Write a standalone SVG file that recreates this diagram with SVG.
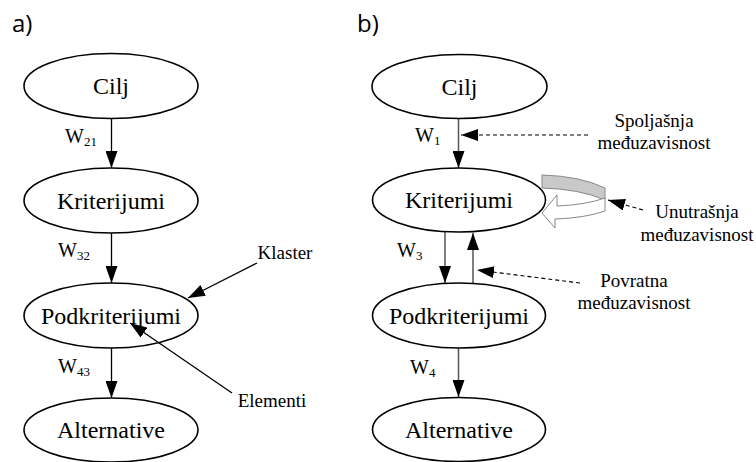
<svg xmlns="http://www.w3.org/2000/svg" width="756" height="462" viewBox="0 0 756 462">
<style>
.node ellipse{fill:#fff;stroke:#000;stroke-width:1.6}
.t{font-family:"Liberation Serif",serif}
.ln{stroke:#000;stroke-width:1.3;fill:none}
.lng{stroke:#555;stroke-width:1.5;fill:none}
.dash{stroke:#000;stroke-width:1.1;stroke-dasharray:4,3;fill:none}
</style>
<defs>
<marker id="ah" viewBox="0 0 17 12" refX="17" refY="6" markerWidth="17" markerHeight="12" markerUnits="userSpaceOnUse" orient="auto">
<path d="M0,0 L17,6 L0,12 Z" fill="#000"/>
</marker>
</defs>
<text x="12" y="32" font-family="Open Sans" font-size="24">a)</text>
<text x="357" y="32" font-family="Open Sans" font-size="24">b)</text>
<g id="connectors">
<line class="ln" x1="111.5" y1="118" x2="111.5" y2="168" marker-end="url(#ah)"/>
<line class="ln" x1="111.5" y1="233" x2="111.5" y2="283" marker-end="url(#ah)"/>
<line class="ln" x1="111.5" y1="348" x2="111.5" y2="398" marker-end="url(#ah)"/>
<line class="lng" x1="458.5" y1="118" x2="458.5" y2="168" marker-end="url(#ah)"/>
<line class="lng" x1="445" y1="232" x2="445" y2="283" marker-end="url(#ah)"/>
<line class="lng" x1="473" y1="283" x2="473" y2="233" marker-end="url(#ah)"/>
<line class="lng" x1="458.5" y1="348" x2="458.5" y2="397" marker-end="url(#ah)"/>
<line class="dash" x1="588" y1="135" x2="461" y2="135" marker-end="url(#ah)"/>
<line class="dash" x1="643" y1="210" x2="608" y2="200" marker-end="url(#ah)"/>
<line class="dash" x1="580" y1="283" x2="477" y2="270" marker-end="url(#ah)"/>
<path d="M542,175 Q580,176 605,188 L605,200 Q580,189 542,188 Z" fill="#c9c9c9" stroke="#888" stroke-width="1"/>
<path d="M605,198 Q585,205 557,206 L557,195 L542,213 L555,228 L555,219 Q585,218 605,211 Z" fill="#fff" stroke="#888" stroke-width="1"/>
</g>
<g id="a-cilj" class="node"><ellipse cx="111" cy="86" rx="87" ry="32.5"/><text class="t" font-size="24" text-anchor="middle" x="111" y="94">Cilj</text></g>
<g id="a-kriterijumi" class="node"><ellipse cx="111" cy="200.5" rx="87" ry="32.5"/><text class="t" font-size="24" text-anchor="middle" x="111" y="208.5">Kriterijumi</text></g>
<g id="a-podkriterijumi" class="node"><ellipse cx="111" cy="315.5" rx="87" ry="32.5"/><text class="t" font-size="24" text-anchor="middle" x="111" y="323.5">Podkriterijumi</text></g>
<g id="a-alternative" class="node"><ellipse cx="111" cy="430" rx="87" ry="32"/><text class="t" font-size="24" text-anchor="middle" x="111" y="438">Alternative</text></g>
<g id="b-cilj" class="node"><ellipse cx="459.5" cy="86.5" rx="87.5" ry="32"/><text class="t" font-size="24" text-anchor="middle" x="459.5" y="94.5">Cilj</text></g>
<g id="b-kriterijumi" class="node"><ellipse cx="459" cy="200" rx="86.5" ry="32"/><text class="t" font-size="24" text-anchor="middle" x="459" y="208">Kriterijumi</text></g>
<g id="b-podkriterijumi" class="node"><ellipse cx="459" cy="315.5" rx="86.5" ry="32.5"/><text class="t" font-size="24" text-anchor="middle" x="459" y="323.5">Podkriterijumi</text></g>
<g id="b-alternative" class="node"><ellipse cx="459" cy="429.5" rx="86.5" ry="32"/><text class="t" font-size="24" text-anchor="middle" x="459" y="437.5">Alternative</text></g>
<g id="pointers">
<line class="ln" x1="257" y1="263" x2="188" y2="298" marker-end="url(#ah)"/>
<line class="ln" x1="232" y1="393" x2="130" y2="323" marker-end="url(#ah)"/>
</g>
<g id="labels">
<text class="t" font-size="20" x="65" y="143">W<tspan font-size="13" dy="3">21</tspan></text>
<text class="t" font-size="20" x="58" y="257">W<tspan font-size="13" dy="3">32</tspan></text>
<text class="t" font-size="20" x="58" y="373">W<tspan font-size="13" dy="3">43</tspan></text>
<text class="t" font-size="20" x="415" y="142">W<tspan font-size="13" dy="3">1</tspan></text>
<text class="t" font-size="20" x="397" y="257">W<tspan font-size="13" dy="3">3</tspan></text>
<text class="t" font-size="20" x="410" y="374">W<tspan font-size="13" dy="3">4</tspan></text>
<text class="t" font-size="19" text-anchor="middle" x="285" y="259">Klaster</text>
<text class="t" font-size="19" text-anchor="middle" x="272" y="407">Elementi</text>
<text class="t" font-size="19" text-anchor="middle" x="654" y="127">Spoljašnja</text>
<text class="t" font-size="19" text-anchor="middle" x="654" y="149">međuzavisnost</text>
<text class="t" font-size="19" text-anchor="middle" x="697" y="218">Unutrašnja</text>
<text class="t" font-size="19" text-anchor="middle" x="697" y="241">međuzavisnost</text>
<text class="t" font-size="19" text-anchor="middle" x="634" y="287">Povratna</text>
<text class="t" font-size="19" text-anchor="middle" x="634" y="309">međuzavisnost</text>
</g>
</svg>
